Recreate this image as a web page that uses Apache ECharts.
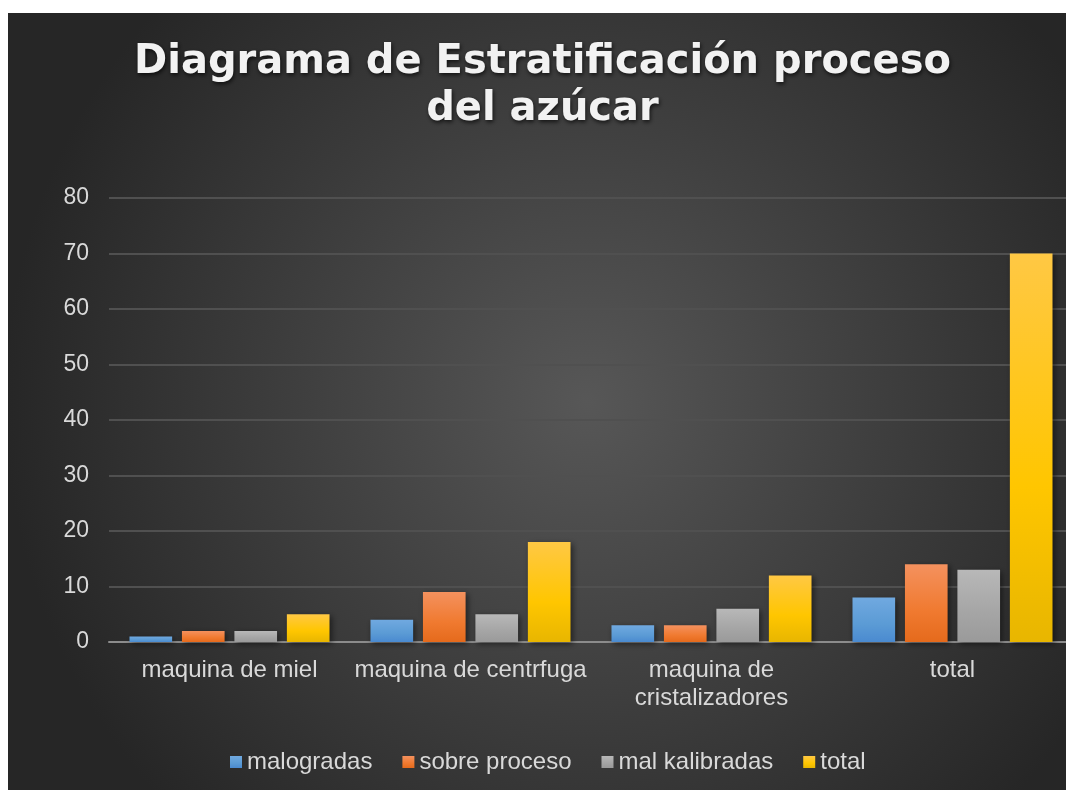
<!DOCTYPE html>
<html><head><meta charset="utf-8">
<script src="https://cdn.jsdelivr.net/npm/echarts@6/dist/echarts.min.js"></script>
<style>html,body{margin:0;padding:0;background:#fff;width:1066px;height:790px;overflow:hidden;position:relative}
#c{position:absolute;left:8px;top:13px;width:1072px;height:777px}</style>
</head><body><div id="c"></div>
<script>
const titleText = 'Diagrama de Estratificación proceso\ndel azúcar';
const categories = ['maquina de miel', 'maquina de centrfuga', 'maquina de\ncristalizadores', 'total'];
const seriesNames = ['malogradas', 'sobre proceso', 'mal kalibradas', 'total'];
const malogradas = [1, 4, 3, 8];
const sobreProceso = [2, 9, 3, 14];
const malKalibradas = [2, 5, 6, 13];
const totalVals = [5, 18, 12, 70];
const yTicks = [0, 10, 20, 30, 40, 50, 60, 70, 80];

const grads = [
  ['#70a9e0', '#5b9bd5', '#4a8ad0'],
  ['#f4915e', '#f07a30', '#e56a1c'],
  ['#b8b8b8', '#a5a5a5', '#9a9a9a'],
  ['#ffc844', '#ffc600', '#e8b600']
];
function grad(g){
  return {type:'linear',x:0,y:0,x2:0,y2:1,colorStops:[{offset:0,color:g[0]},{offset:0.6,color:g[1]},{offset:1,color:g[2]}]};
}
const data = [malogradas, sobreProceso, malKalibradas, totalVals];
const chart = echarts.init(document.getElementById('c'));
chart.setOption({
  backgroundColor: {type:'radial',x:0.54,y:0.5,r:0.75,colorStops:[{offset:0,color:'#575757'},{offset:1,color:'#262626'}]},
  animation:false,
  graphic:[{
    type:'text', x:534.5, y:73.5, z:10,
    style:{text:titleText, font:'bold 40px "DejaVu Sans"', fill:'#f2f2f2', align:'center', verticalAlign:'middle', lineHeight:47,
      textShadowColor:'rgba(0,0,0,0.7)', textShadowBlur:4, textShadowOffsetX:1, textShadowOffsetY:2}
  }],
  legend:{
    data:seriesNames, top:732, left:217, itemWidth:12, itemHeight:12, itemGap:30,
    icon:'rect',
    textStyle:{color:'#d9d9d9', fontSize:24, fontFamily:'Liberation Sans'}
  },
  grid:{left:101, right:7, top:185, bottom:148},
  xAxis:{
    type:'category', data:categories,
    axisLine:{show:true, lineStyle:{color:'#8c8c8c', width:2}},
    axisTick:{show:false},
    axisLabel:{color:'#d9d9d9', fontSize:24, fontFamily:'Liberation Sans', margin:14, lineHeight:28, interval:0}
  },
  yAxis:{
    type:'value', min:0, max:80, interval:10,
    axisLine:{show:false}, axisTick:{show:false},
    axisLabel:{color:'#d9d9d9', fontSize:23, fontFamily:'Liberation Sans', margin:20,
      formatter:v=>yTicks.includes(v)?String(v):''},
    splitLine:{lineStyle:{color:'#505050', width:2}}
  },
  series: data.map((d,i)=>({
    name:seriesNames[i], type:'bar', data:d,
    barGap:'23%', barCategoryGap:'17%',
    itemStyle:{color:grad(grads[i]), shadowColor:'rgba(0,0,0,0.5)', shadowBlur:6, shadowOffsetX:2, shadowOffsetY:2}
  }))
});
</script></body></html>
